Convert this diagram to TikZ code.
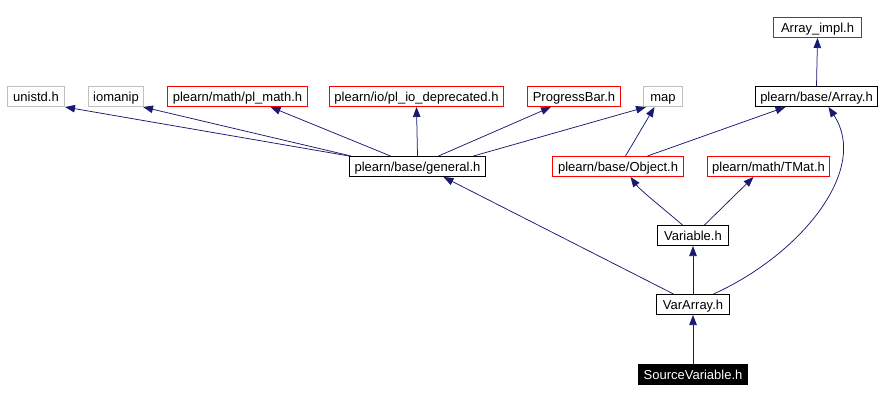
\documentclass[tikz,border=0pt]{standalone}
\usepackage{xcolor}
\usepackage{fontspec}
\setmainfont{Liberation Sans}
\usepackage{tikz}
\usetikzlibrary{arrows.meta}
\definecolor{incl}{HTML}{191970}
\definecolor{ext}{HTML}{BFBFBF}
\definecolor{doc}{HTML}{FF0000}

\begin{document}
\begin{tikzpicture}[x=1pt, y=-1pt,
  hdr/.style={draw, minimum height=20pt, inner sep=0pt, text height=11.5pt, text depth=2pt, font=\fontsize{13}{15}\selectfont, line width=1pt},
  prj/.style={hdr, draw=doc},
  sys/.style={hdr, draw=ext},
  own/.style={hdr, draw=black},
  inc/.style={-{Triangle[length=10pt, width=7.5pt]}, line width=0.75pt, color=incl}
]
\useasboundingbox (0,0) rectangle (885,401);

\node[prj, minimum width=88pt] (ai) at (817.5,27.5) {Array\_impl.h};
\node[own, minimum width=122pt] (ar) at (816.5,96.5) {plearn/base/Array.h};
\node[sys, minimum width=39pt] (mp) at (663,96.5) {map};
\node[prj, minimum width=93pt] (pb) at (574,96.5) {ProgressBar.h};
\node[prj, minimum width=174pt] (io) at (416.5,96.5) {plearn/io/pl\_io\_deprecated.h};
\node[prj, minimum width=140pt] (pm) at (237.5,96.5) {plearn/math/pl\_math.h};
\node[sys, minimum width=55pt] (iom) at (116,96.5) {iomanip};
\node[sys, minimum width=57pt] (un) at (36,96.5) {unistd.h};
\node[own, minimum width=136pt] (gen) at (417.5,166.5) {plearn/base/general.h};
\node[prj, minimum width=131pt] (obj) at (618,166.5) {plearn/base/Object.h};
\node[prj, minimum width=122pt] (tm) at (768.5,166.5) {plearn/math/TMat.h};
\node[own, minimum width=71pt] (var) at (693,235.5) {Variable.h};
\node[own, minimum width=73pt] (va) at (693,304.5) {VarArray.h};
\node[hdr, fill=black, text=white, minimum width=109pt] (src) at (693,374.5) {SourceVariable.h};

\draw[inc] (gen.north west) -- (un.south east);
\draw[inc] ([xshift=2pt]gen.north west) -- ([xshift=-1pt]iom.south east);
\draw[inc] ([xshift=-27pt]gen.north) -- ([xshift=33pt]pm.south);
\draw[inc] (gen.north) -- (io.south);
\draw[inc] ([xshift=21pt]gen.north) -- ([xshift=-23pt]pb.south);
\draw[inc] ([xshift=56pt]gen.north) -- ([xshift=-17pt]mp.south);
\draw[inc] ([xshift=7.5pt]obj.north) -- ([xshift=-8.5pt]mp.south);
\draw[inc] ([xshift=29.5pt]obj.north) -- ([xshift=-31pt]ar.south);
\draw[inc] (ar.north) -- (ai.south);
\draw[inc] ([xshift=-10.5pt]var.north) .. controls (665,210) and (640,190) .. ([xshift=12.5pt]obj.south);
\draw[inc] ([xshift=11.5pt]var.north) -- ([xshift=-15pt]tm.south);
\draw[inc] ([xshift=-19.5pt]va.north) -- ([xshift=26pt]gen.south);
\draw[inc] (va) -- (var);
\draw[inc] ([xshift=20.5pt]va.north) .. controls (800,255) and (870,170) .. ([xshift=12pt]ar.south);
\draw[inc] (src) -- (va);
\end{tikzpicture}
\end{document}
